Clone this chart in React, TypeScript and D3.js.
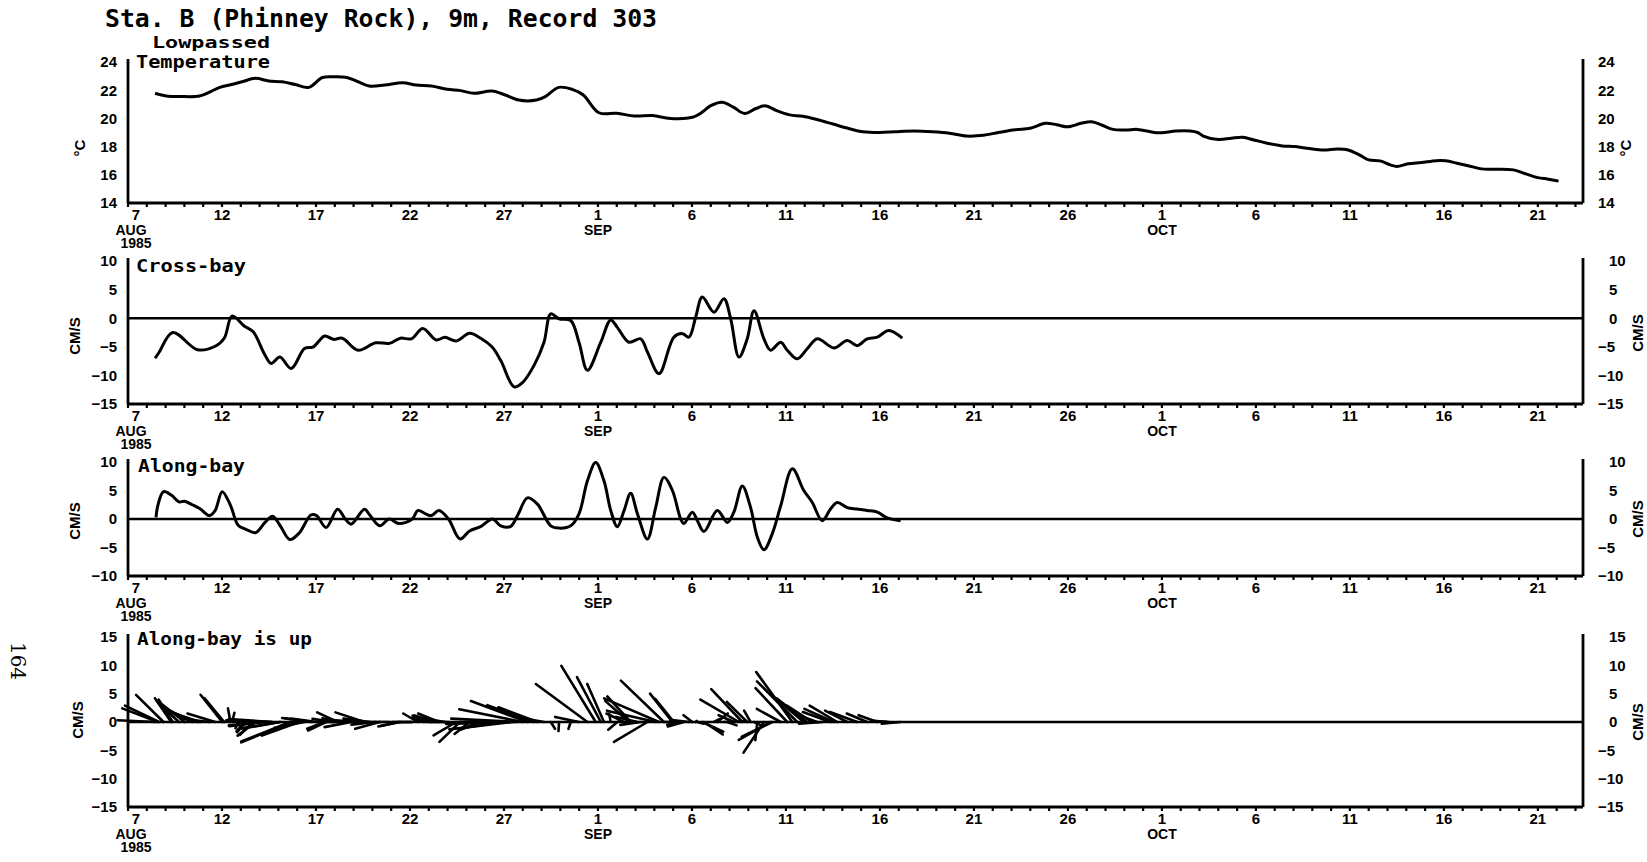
import React from "react";
import * as d3 from "d3";

// ---------- text ----------
const titleText = "Sta. B (Phinney Rock), 9m, Record 303";
const pageNumber = "164";

// ---------- x axis (days since 7 Aug 1985) ----------
const xTickDays = [0, 5, 10, 15, 20, 25, 30, 35, 40, 45, 50, 55, 60, 65, 70, 75];
const xTickLabels = ["7", "12", "17", "22", "27", "1", "6", "11", "16", "21", "26", "1", "6", "11", "16", "21"];
const monthDays = [0, 25, 55];
const monthLabels = ["AUG", "SEP", "OCT"];
const yearLabel = "1985";

// ---------- y ticks ----------
const tempTicks = [14, 16, 18, 20, 22, 24];
const crossTicks = [-15, -10, -5, 0, 5, 10];
const alongTicks = [-10, -5, 0, 5, 10];
const stickTicks = [-15, -10, -5, 0, 5, 10, 15];

// ---------- lowpassed temperature (deg C) ----------
const tempDays = [1.44, 2.03, 2.8, 3.81, 4.4, 4.88, 5.5, 6.07, 6.78, 7.49, 8.2, 8.9, 9.62, 10.34, 11.0, 11.64, 12.24, 12.83, 13.66, 14.61, 15.33, 16.15, 16.98, 17.7, 18.4, 19.35, 20.07, 20.78, 21.73, 22.2, 22.91, 23.63, 24.22, 25.05, 26.0, 26.95, 27.9, 28.85, 30.03, 30.5, 31.0, 31.6, 32.2, 32.8, 33.4, 33.9, 34.5, 35.2, 35.9, 36.7, 37.5, 38.3, 39.1, 40.0, 40.8, 41.8, 42.8, 43.7, 44.6, 45.5, 46.3, 47.2, 48.0, 48.8, 49.4, 50.0, 50.7, 51.26, 51.8, 52.4, 53.1, 53.7, 54.6, 55.0, 55.75, 56.5, 56.9, 57.2, 58.0, 58.7, 59.3, 59.9, 60.6, 61.4, 62.1, 62.85, 63.6, 64.35, 64.9, 65.5, 66.0, 66.6, 67.15, 67.5, 68.1, 68.8, 69.6, 70.1, 70.7, 71.45, 72.0, 72.75, 73.7, 74.4, 75.0, 75.55, 76.1];
const tempVals = [21.78, 21.59, 21.55, 21.59, 21.9, 22.2, 22.4, 22.6, 22.84, 22.65, 22.6, 22.4, 22.2, 22.9, 22.95, 22.9, 22.6, 22.3, 22.37, 22.53, 22.37, 22.3, 22.06, 21.97, 21.78, 21.94, 21.66, 21.3, 21.3, 21.54, 22.2, 22.06, 21.66, 20.4, 20.36, 20.17, 20.2, 20.0, 20.08, 20.4, 20.9, 21.15, 20.8, 20.35, 20.7, 20.9, 20.55, 20.25, 20.15, 19.9, 19.6, 19.3, 19.05, 19.0, 19.05, 19.1, 19.05, 18.95, 18.75, 18.8, 19.0, 19.2, 19.3, 19.65, 19.55, 19.4, 19.65, 19.76, 19.53, 19.22, 19.18, 19.22, 19.0, 18.99, 19.1, 19.1, 19.0, 18.75, 18.5, 18.6, 18.66, 18.47, 18.24, 18.05, 18.0, 17.86, 17.76, 17.83, 17.76, 17.41, 17.06, 16.99, 16.7, 16.59, 16.78, 16.87, 17.0, 16.99, 16.82, 16.59, 16.42, 16.4, 16.35, 16.05, 15.8, 15.69, 15.55];

// ---------- cross-bay velocity (cm/s) ----------
const crossDays = [1.44, 1.65, 2.38, 3.69, 4.64, 5.12, 5.54, 6.18, 6.66, 7.25, 7.61, 8.08, 8.68, 9.39, 9.86, 10.46, 10.93, 11.4, 12.23, 13.18, 13.9, 14.49, 15.08, 15.68, 16.39, 16.86, 17.46, 18.17, 18.76, 19.36, 19.83, 20.54, 21.0, 21.6, 22.13, 22.49, 22.93, 23.55, 23.99, 24.44, 25.15, 25.68, 26.03, 26.65, 27.27, 27.63, 28.25, 29.04, 29.5, 29.84, 30.2, 30.55, 31.17, 31.7, 32.06, 32.5, 32.94, 33.3, 33.83, 34.18, 34.72, 35.07, 35.6, 36.13, 36.67, 37.55, 38.26, 38.79, 39.32, 39.86, 40.47, 41.19];
const crossVals = [-7.0, -6.0, -2.5, -5.5, -4.9, -3.5, 0.4, -1.35, -2.35, -6.2, -7.9, -6.8, -8.8, -5.3, -5.0, -3.1, -3.7, -3.5, -5.6, -4.3, -4.4, -3.5, -3.6, -1.8, -3.8, -3.35, -4.0, -2.65, -3.5, -5.0, -7.4, -12.0, -11.2, -8.25, -4.2, 0.75, -0.1, -0.4, -4.2, -9.1, -4.2, -0.3, -1.6, -4.2, -3.6, -5.9, -9.7, -3.3, -2.7, -3.3, 0.2, 3.7, 1.05, 3.4, -0.1, -6.8, -3.6, 1.3, -3.6, -5.6, -4.2, -5.6, -7.1, -5.35, -3.6, -5.2, -3.9, -4.8, -3.6, -3.3, -2.15, -3.5];

// ---------- along-bay velocity (cm/s) ----------
const alongDays = [1.49, 1.59, 1.89, 2.3, 2.71, 3.01, 3.42, 3.83, 4.34, 4.64, 5.01, 5.45, 5.86, 6.27, 6.78, 7.29, 7.69, 8.1, 8.61, 9.12, 9.73, 10.03, 10.54, 11.15, 11.56, 11.87, 12.58, 12.88, 13.39, 13.9, 14.41, 15.12, 15.42, 15.83, 16.14, 16.54, 17.05, 17.66, 18.17, 18.78, 19.39, 19.83, 20.36, 20.72, 21.25, 21.78, 22.49, 22.93, 23.55, 23.99, 24.44, 24.88, 25.32, 25.68, 26.03, 26.39, 26.74, 27.1, 27.63, 28.07, 28.51, 28.96, 29.4, 29.57, 30.02, 30.29, 30.64, 31.35, 31.88, 32.23, 32.68, 33.12, 33.48, 33.83, 34.27, 34.72, 35.34, 35.95, 36.4, 36.93, 37.37, 37.73, 38.26, 38.79, 39.32, 39.86, 40.39, 41.1];
const alongVals = [0.3, 2.4, 4.8, 4.2, 3.0, 3.1, 2.5, 1.8, 0.6, 1.5, 4.8, 2.4, -1.1, -1.8, -2.4, -0.6, 0.5, -1.2, -3.6, -2.4, 0.7, 0.6, -1.5, 1.7, 0.0, -0.9, 1.7, 0.6, -1.2, 0.0, -0.8, 0.0, 1.5, 0.9, 0.6, 1.5, 0.0, -3.5, -2.1, -1.3, 0.0, -1.2, -1.3, 0.6, 3.7, 2.6, -1.2, -1.6, -1.2, 0.9, 6.7, 9.9, 6.7, 1.5, -1.35, 1.5, 4.5, 0.9, -3.5, 2.0, 7.3, 5.0, 0.0, -0.8, 1.2, -0.3, -2.2, 1.5, -0.6, 1.2, 5.8, 2.0, -3.2, -5.4, -2.6, 2.3, 8.8, 5.0, 2.9, -0.3, 1.75, 2.9, 2.0, 1.75, 1.5, 1.2, 0.2, -0.3];

// ---------- layout ----------
const W = 1647;
const H = 862;
const X0 = 128;
const X1 = 1583;
const INK = "#000";
const MONO = "'DejaVu Sans Mono', 'Liberation Mono', monospace";
const SANS = "'Liberation Sans', Arial, sans-serif";

const x = d3.scaleLinear().domain([0, 77.4]).range([X0, X1]);
const yT = d3.scaleLinear().domain([14, 24]).range([203, 62]);
const yC = d3.scaleLinear().domain([-15, 10]).range([404, 261]);
const yA = d3.scaleLinear().domain([-10, 10]).range([576, 462]);
const yS = d3.scaleLinear().domain([-15, 15]).range([807, 637]);

function interp(days: number[], vals: number[], t: number): number {
  const i = d3.bisectLeft(days, t);
  if (i <= 0) return vals[0];
  if (i >= days.length) return vals[vals.length - 1];
  if (days[i] === t) return vals[i];
  const f = (t - days[i - 1]) / (days[i] - days[i - 1]);
  return vals[i - 1] + f * (vals[i] - vals[i - 1]);
}

function linePath(days: number[], vals: number[], y: d3.ScaleLinear<number, number>) {
  return (
    d3
      .line<number>()
      .x((_, i) => x(days[i]))
      .y((d) => y(d))
      .curve(d3.curveCatmullRom.alpha(0.5))(vals) || ""
  );
}

type AxisProps = {
  y: d3.ScaleLinear<number, number>;
  ticks: number[];
  temp?: boolean;
};

function Axes({ y, ticks, temp }: AxisProps) {
  const [bottom, top] = y.range();
  const days = d3.range(0, 78);
  const fmt = (v: number) => (v < 0 ? "\u2212" + Math.abs(v) : String(v));
  return (
    <g>
      <line x1={X0} x2={X0} y1={top - 3} y2={bottom} stroke={INK} strokeWidth={2.8} />
      <line x1={X1} x2={X1} y1={top - 3} y2={bottom} stroke={INK} strokeWidth={2.8} />
      <line x1={X0} x2={X1} y1={bottom} y2={bottom} stroke={INK} strokeWidth={2.8} />
      {days.map((d) => (
        <line key={d} x1={x(d)} x2={x(d)} y1={bottom} y2={bottom + 4} stroke={INK} strokeWidth={2.2} />
      ))}
      {xTickDays.map((d, i) => (
        <text
          key={"xl" + d}
          x={x(d) + (i === 0 ? 8 : 0)}
          y={bottom + 17}
          textAnchor="middle"
          fontFamily={SANS}
          fontWeight="bold"
          fontSize={15}
        >
          {xTickLabels[i]}
        </text>
      ))}
      {monthDays.map((d, i) => (
        <text
          key={"m" + d}
          x={x(d) + (i === 0 ? 3 : 0)}
          y={bottom + 32}
          textAnchor="middle"
          fontFamily={SANS}
          fontWeight="bold"
          fontSize={14}
        >
          {monthLabels[i]}
        </text>
      ))}
      <text x={x(0) + 8} y={bottom + 45} textAnchor="middle" fontFamily={SANS} fontWeight="bold" fontSize={14}>
        {yearLabel}
      </text>
      {ticks.map((v) => (
        <text
          key={"yl" + v}
          x={117}
          y={y(v)}
          dy="0.36em"
          textAnchor="end"
          fontFamily={SANS}
          fontWeight="bold"
          fontSize={15}
        >
          {fmt(v)}
        </text>
      ))}
      {ticks.map((v) => (
        <text
          key={"yr" + v}
          x={temp ? 1598 : v < 0 ? 1598 : 1609}
          y={y(v)}
          dy="0.36em"
          textAnchor="start"
          fontFamily={SANS}
          fontWeight="bold"
          fontSize={15}
        >
          {fmt(v)}
        </text>
      ))}
    </g>
  );
}

function Rot({ x0, y0, text, angle = -90, size = 15 }: { x0: number; y0: number; text: string; angle?: number; size?: number }) {
  return (
    <text
      transform={`translate(${x0},${y0}) rotate(${angle})`}
      textAnchor="middle"
      dy="0.36em"
      fontFamily={SANS}
      fontWeight="bold"
      fontSize={size}
    >
      {text}
    </text>
  );
}

export default function App() {
  const tStart = Math.max(crossDays[0], alongDays[0]);
  const tEnd = Math.min(crossDays[crossDays.length - 1], alongDays[alongDays.length - 1]);
  const stickDays = Array.from(new Set([...crossDays, ...alongDays]))
    .sort((a, b) => a - b)
    .filter((t) => t >= tStart && t <= tEnd);
  const k = yS(0) - yS(1);
  const sticks = stickDays.map((t) => {
    const u = interp(crossDays, crossVals, t);
    const v = interp(alongDays, alongVals, t);
    return { t, u, v };
  });

  const labelStyle = { fontFamily: MONO, fontWeight: "bold" as const, fontSize: 18 };

  return (
    <svg
      width={W}
      height={H}
      viewBox={`0 0 ${W} ${H}`}
      style={{ position: "absolute", left: 0, top: 0, background: "#fff" }}
    >
      <rect x={0} y={0} width={W} height={H} fill="#fff" />
      <text x={105} y={27} fontFamily={MONO} fontWeight="bold" fontSize={24} textLength={552} lengthAdjust="spacingAndGlyphs">
        {titleText}
      </text>

      <text transform="translate(18,661) rotate(90)" textAnchor="middle" dy="0.36em" fontFamily="'DejaVu Serif', serif" fontSize={20}>
        {pageNumber}
      </text>

      {/* Panel 1: temperature */}
      <Axes y={yT} ticks={tempTicks} temp />
      <text x={152} y={48} {...labelStyle} fontSize={16} textLength={118} lengthAdjust="spacingAndGlyphs">Lowpassed</text>
      <text x={136} y={68} {...labelStyle} fontSize={17} textLength={134} lengthAdjust="spacingAndGlyphs">Temperature</text>
      <Rot x0={80} y0={148} text="°C" />
      <Rot x0={1626} y0={148} text="°C" />
      <path d={linePath(tempDays, tempVals, yT)} fill="none" stroke={INK} strokeWidth={3} strokeLinejoin="round" />

      {/* Panel 2: cross-bay */}
      <Axes y={yC} ticks={crossTicks} />
      <line x1={X0} x2={X1} y1={yC(0)} y2={yC(0)} stroke={INK} strokeWidth={2.4} />
      <text x={136} y={272} {...labelStyle} textLength={110} lengthAdjust="spacingAndGlyphs">Cross-bay</text>
      <Rot x0={75} y0={336} text="CM/S" />
      <Rot x0={1638} y0={333} text="CM/S" />
      <path d={linePath(crossDays, crossVals, yC)} fill="none" stroke={INK} strokeWidth={3} strokeLinejoin="round" />

      {/* Panel 3: along-bay */}
      <Axes y={yA} ticks={alongTicks} />
      <line x1={X0} x2={X1} y1={yA(0)} y2={yA(0)} stroke={INK} strokeWidth={2.4} />
      <text x={138} y={472} {...labelStyle} textLength={107} lengthAdjust="spacingAndGlyphs">Along-bay</text>
      <Rot x0={75} y0={521} text="CM/S" />
      <Rot x0={1638} y0={519} text="CM/S" />
      <path d={linePath(alongDays, alongVals, yA)} fill="none" stroke={INK} strokeWidth={3} strokeLinejoin="round" />

      {/* Panel 4: stick plot */}
      <Axes y={yS} ticks={stickTicks} />
      <line x1={X0} x2={X1} y1={yS(0)} y2={yS(0)} stroke={INK} strokeWidth={2.4} />
      <text x={137} y={645} {...labelStyle} textLength={175} lengthAdjust="spacingAndGlyphs">Along-bay is up</text>
      <Rot x0={78} y0={720} text="CM/S" />
      <Rot x0={1638} y0={722} text="CM/S" />
      {sticks.map((s) => (
        <line
          key={"s" + s.t}
          x1={x(s.t)}
          y1={yS(0)}
          x2={x(s.t) + s.u * k}
          y2={yS(s.v)}
          stroke={INK}
          strokeWidth={2.6}
          strokeLinecap="round"
        />
      ))}
    </svg>
  );
}
